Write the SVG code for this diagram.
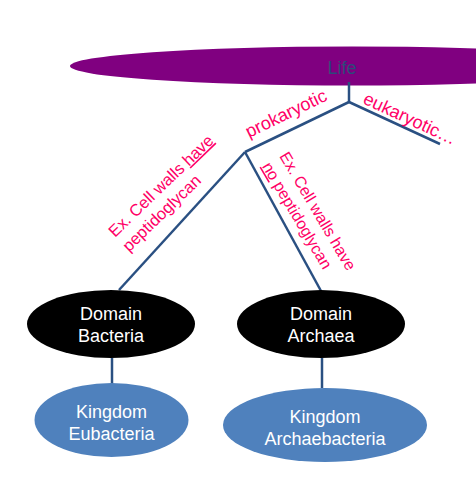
<svg xmlns="http://www.w3.org/2000/svg" width="476" height="487" viewBox="0 0 476 487">
<style>
text{font-family:"Liberation Sans",Arial,sans-serif;}
.lbl{fill:#FF0066;font-size:16.5px;}
.big{font-size:18px;}
.w{fill:#FFFFFF;font-size:18px;text-anchor:middle;}
.c{stroke:#2A5082;stroke-width:2.5;fill:none;}
</style>
<rect width="476" height="487" fill="#FFFFFF"/>
<g id="life">
<ellipse cx="352" cy="66" rx="282" ry="19.5" fill="#800080"/>
<text x="342" y="74" font-size="18" text-anchor="middle" fill="#2E4A7A">Life</text>
</g>
<g id="connectors">
<polyline class="c" points="349,82 349,102"/>
<polyline class="c" points="349,102 245,152"/>
<polyline class="c" points="349,102 440,144"/>
<polyline class="c" points="245,152 119,290"/>
<polyline class="c" points="245,152 321,291"/>
<polyline class="c" points="112,358 112,385"/>
<polyline class="c" points="322,358 322,388"/>
</g>
<g id="edge-labels">
<text class="lbl big" transform="translate(249,138) rotate(-25.7)">prokaryotic</text>
<text class="lbl big" transform="translate(362,103) rotate(24.8)">eukaryotic…</text>
<text class="lbl" transform="translate(115,238) rotate(-44)"><tspan x="0" y="0">Ex. Cell walls <tspan text-decoration="underline">have</tspan></tspan><tspan x="0" y="20">peptidoglycan</tspan></text>
<text class="lbl" transform="translate(279,156) rotate(59.5)" style="font-size:16px"><tspan x="0" y="0">Ex. Cell walls have</tspan><tspan x="0" y="20"><tspan text-decoration="underline">no</tspan> peptidoglycan</tspan></text>
</g>
<g id="domain-bacteria">
<ellipse cx="111" cy="324" rx="84" ry="34" fill="#000000"/>
<text class="w" x="111" y="320">Domain</text>
<text class="w" x="111" y="342">Bacteria</text>
</g>
<g id="domain-archaea">
<ellipse cx="321" cy="324" rx="84" ry="34" fill="#000000"/>
<text class="w" x="321" y="320">Domain</text>
<text class="w" x="321" y="342">Archaea</text>
</g>
<g id="kingdom-eubacteria">
<ellipse cx="111.5" cy="420" rx="77" ry="37" fill="#4F81BD"/>
<text class="w" x="111.5" y="418">Kingdom</text>
<text class="w" x="111.5" y="440">Eubacteria</text>
</g>
<g id="kingdom-archaebacteria">
<ellipse cx="325" cy="425" rx="102" ry="37" fill="#4F81BD"/>
<text class="w" x="325" y="423">Kingdom</text>
<text class="w" x="325" y="445">Archaebacteria</text>
</g>
</svg>
